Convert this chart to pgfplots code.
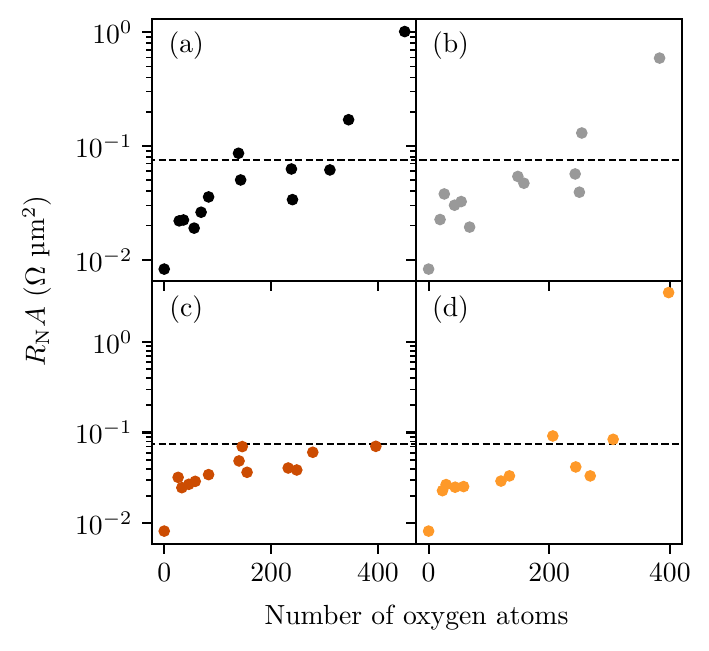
\documentclass[border=0pt]{standalone}
\usepackage{pgfplots}
\pgfplotsset{compat=1.18}

\definecolor{cgray}{HTML}{999999}
\definecolor{cdark}{HTML}{CC4C02}
\definecolor{clight}{HTML}{FE9929}

\pgfplotsset{
  rpanel/.style={
    scale only axis,
    anchor=south west,
    axis line style={line width=0.8pt},
    tick align=outside,
    xtick pos=bottom,
    ytick pos=left,
    xtick={0,200,400},
    ytick={0.01,0.1,1},
    major tick length=3.5pt,
    minor tick length=2pt,
    every major tick/.append style={line width=0.8pt, black},
    every minor tick/.append style={line width=0.6pt, black},
  },
  rtop/.style={ymin=0.00654, ymax=1.30, height=94.6pt},
  rbottom/.style={ymin=0.0059, ymax=4.71, height=95.1pt},
  rleft/.style={xmin=-23, xmax=471, width=95.4pt},
  rright/.style={xmin=-21, xmax=420, width=96.1pt},
  rpts/.style={only marks, mark=*, mark size=1.9pt},
  rlimit/.style={black, line width=0.7pt, dash pattern=on 2.6pt off 1.2pt},
}

\begin{document}
\begin{tikzpicture}
\path[use as bounding box] (0,0) rectangle (256.2pt,234.9pt);

% (a)
\begin{axis}[ymode=log, rpanel, rtop, rleft, at={(54.9pt,133.4pt)}, xticklabels={}]
\addplot[rlimit] coordinates {(-50,0.075) (500,0.075)};
\addplot[rpts, black] coordinates {
  (0,0.0083) (28,0.0220) (36,0.0224) (56,0.0190) (69,0.0262) (83,0.0357)
  (139,0.0863) (143,0.0503) (238,0.0628) (240,0.0338) (310,0.0616)
  (345,0.170) (450,1.01)
};
\node at (rel axis cs:0.13,0.9) {(a)};
\end{axis}

% (b)
\begin{axis}[ymode=log, rpanel, rtop, rright, at={(150.3pt,133.4pt)}, xticklabels={}, yticklabels={}]
\addplot[rlimit] coordinates {(-50,0.075) (500,0.075)};
\addplot[rpts, cgray, mark options={fill=cgray, draw=cgray}] coordinates {
  (0,0.0083) (19,0.0226) (26,0.0379) (43,0.0302) (54,0.0325) (68,0.0194)
  (148,0.0540) (158,0.0471) (243,0.0568) (250,0.0393) (254,0.130) (383,0.591)
};
\node at (rel axis cs:0.13,0.9) {(b)};
\end{axis}

% (c)
\begin{axis}[ymode=log, rpanel, rbottom, rleft, at={(54.9pt,38.3pt)}]
\addplot[rlimit] coordinates {(-50,0.075) (500,0.075)};
\addplot[rpts, cdark, mark options={fill=cdark, draw=cdark}] coordinates {
  (0,0.0082) (26,0.0321) (33,0.0247) (46,0.0269) (58,0.0290) (83,0.0344)
  (140,0.0487) (146,0.0701) (155,0.0365) (232,0.0407) (248,0.0387)
  (278,0.0607) (396,0.0706)
};
\node at (rel axis cs:0.13,0.89) {(c)};
\end{axis}

% (d)
\begin{axis}[ymode=log, rpanel, rbottom, rright, at={(150.3pt,38.3pt)}, yticklabels={}]
\addplot[rlimit] coordinates {(-50,0.075) (500,0.075)};
\addplot[rpts, clight, mark options={fill=clight, draw=clight}] coordinates {
  (0,0.0082) (23,0.0229) (29,0.0267) (44,0.0250) (58,0.0254) (120,0.0292)
  (134,0.0333) (206,0.0918) (244,0.0418) (268,0.0333) (306,0.0843) (398,3.50)
};
\node at (rel axis cs:0.13,0.89) {(d)};
\end{axis}

\node[rotate=90] at (13.4pt,133.4pt) {$R_{\mathrm{N}}A$ ($\Omega$ µm$^2$)};
\node at (150.5pt,11.9pt) {Number of oxygen atoms};
\end{tikzpicture}
\end{document}
